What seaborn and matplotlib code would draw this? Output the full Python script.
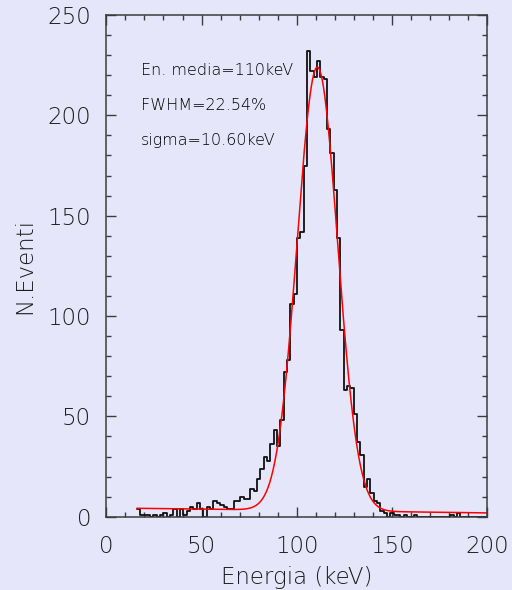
import numpy as np
import pandas as pd
import matplotlib
matplotlib.use("Agg")
import matplotlib.pyplot as plt
from matplotlib.ticker import MultipleLocator
import seaborn as sns

# Energy spectrum: counts per channel (channel width in keV)
bin_lo = 16.0
bin_width = 1.75
counts = [
    4, 1, 1, 1, 0, 1, 0, 1, 2, 0,
    1, 4, 0, 4, 1, 3, 5, 4, 7, 4,
    0, 5, 4, 8, 7, 6, 5, 4, 4, 8,
    8, 10, 9, 9, 14, 13, 19, 24, 30, 28,
    36, 43, 35, 48, 72, 78, 106, 111, 139, 142,
    175, 232, 222, 219, 227, 219, 218, 193, 181, 163,
    139, 93, 63, 65, 64, 51, 37, 31, 15, 19,
    12, 8, 7, 3, 2, 0, 2, 1, 1, 0,
    1, 0, 0, 1, 0, 0, 0, 0, 0, 0,
    0, 0, 0, 0, 1, 0, 2, 0, 0, 0,
    0, 0, 0, 0, 0, 0,
]

# Gaussian fit with linear background
mean_energy = 110.74
sigma = 10.60
amplitude = 221.0
bkg_const = 4.4
bkg_slope = -0.0125

x_ticks = [0, 50, 100, 150, 200]
y_ticks = [0, 50, 100, 150, 200, 250]

n_bins = len(counts)
bin_hi = bin_lo + bin_width * n_bins
centers = bin_lo + bin_width * (np.arange(n_bins) + 0.5)
spec = pd.DataFrame({"energy": centers, "counts": counts})

e_fit = np.linspace(bin_lo, 200, 600)
fit = (amplitude * np.exp(-0.5 * ((e_fit - mean_energy) / sigma) ** 2)
       + bkg_const + bkg_slope * e_fit)
fit_df = pd.DataFrame({"energy": e_fit, "fit": fit})

bg = "#E6E6FA"
ink = "#3c3c3c"
text_ink = "#1c1c1c"
sns.set_style("ticks")
plt.rcParams["font.family"] = ["DejaVu Sans"]
plt.rcParams["font.weight"] = 200

fig = plt.figure(figsize=(5.12, 5.9), dpi=100, facecolor=bg)
ax = fig.add_axes([0.2076, 0.1242, 0.7445, 0.8504])
ax.set_facecolor(bg)

sns.histplot(data=spec, x="energy", weights="counts",
             binwidth=bin_width, binrange=(bin_lo, bin_hi),
             element="step", fill=False, color="#111111", linewidth=1.3, ax=ax)
sns.lineplot(data=fit_df, x="energy", y="fit", color="#ff0000",
             linewidth=1.1, ax=ax)

ax.set_xlim(0, 200)
ax.set_ylim(0, 250)
ax.set_xticks(x_ticks)
ax.set_yticks(y_ticks)
ax.xaxis.set_minor_locator(MultipleLocator(10))
ax.yaxis.set_minor_locator(MultipleLocator(10))
ax.tick_params(which="both", direction="in", top=True, right=True,
               color=ink, width=1.0)
ax.tick_params(which="major", length=7)
ax.tick_params(which="minor", length=3.5)
ax.tick_params(axis="x", which="major", pad=13, labelsize=16.5,
               labelcolor=text_ink)
ax.tick_params(axis="y", which="major", pad=11, labelsize=16.5,
               labelcolor=text_ink)
for s in ax.spines.values():
    s.set_visible(True)
    s.set_color(ink)
    s.set_linewidth(1.1)

ax.set_xlabel("Energia (keV)", fontsize=16.5, color=text_ink, labelpad=6,
              fontweight=200)
ax.set_ylabel("N.Eventi", fontsize=16.5, color=text_ink, labelpad=8,
              fontweight=200)

fwhm_pct = 2.3548 * sigma / mean_energy * 100
notes = [f"En. media={int(mean_energy)}keV",
         f"FWHM={fwhm_pct:.2f}%",
         f"sigma={sigma:.2f}keV"]
for i, txt in enumerate(notes):
    ax.text(18, 220 - 17.5 * i, txt, fontsize=11.5, color="#000000",
            va="baseline", ha="left", fontweight=200)

fig.savefig("out.png", dpi=100, facecolor=bg)
